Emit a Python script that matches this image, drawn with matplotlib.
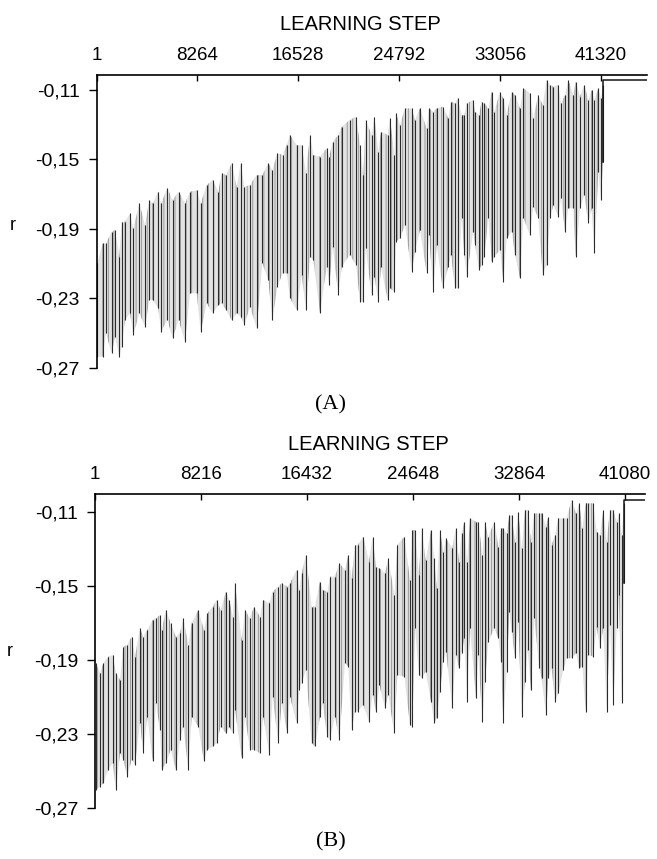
import matplotlib.pyplot as plt

plt.rcParams["font.family"] = ["Liberation Sans", "DejaVu Sans"]
plt.rcParams["hatch.linewidth"] = 0.6

# (A) learning run: oscillation strokes, step -> top / bottom of r
steps_a = [70, 506, 779, 1244, 1517, 1871, 2063, 2336, 2745, 3018, 3509, 3974,
           4328, 4601, 5066, 5284, 5803, 6239, 6731, 7250, 7659, 8205, 8533,
           9024, 9515, 9980, 10253, 10607, 11071, 11481, 11809, 12109, 12573,
           13119, 13583, 14075, 14402, 14812, 15249, 15576, 15849, 16395,
           16805, 17159, 17487, 17760, 18306, 18852, 19070, 19343, 19808,
           20081, 20735, 21254, 21582, 21855, 22046, 22537, 22755, 23083,
           23301, 23847, 24039, 24393, 24530, 24858, 25267, 25813, 26086,
           26496, 27042, 27233, 27588, 27861, 28352, 28816, 29035, 29362,
           29580, 29908, 30126, 30318, 30864, 31000, 31328, 31546, 31764,
           32092, 32365, 32583, 33048, 33321, 33594, 34003, 34276, 34686,
           34959, 35505, 35778, 36187, 36542, 36870, 37143, 37416, 37825,
           38043, 38371, 38644, 39054, 39245, 39600, 39955, 40282, 40555,
           40773, 41101, 41319, 41480]
top_a = [-0.2098, -0.1983, -0.1983, -0.1916, -0.1906, -0.2059, -0.1858, -0.1858,
         -0.1810, -0.1896, -0.1753, -0.1877, -0.1733, -0.1753, -0.1685, -0.1753,
         -0.1666, -0.1733, -0.1685, -0.1753, -0.1685, -0.1676, -0.1753, -0.1647,
         -0.1618, -0.1685, -0.1580, -0.1589, -0.1522, -0.1657, -0.1522, -0.1657,
         -0.1647, -0.1589, -0.1589, -0.1522, -0.1561, -0.1465, -0.1474, -0.1417,
         -0.1359, -0.1417, -0.1417, -0.1580, -0.1359, -0.1474, -0.1484, -0.1436,
         -0.1484, -0.1398, -0.1359, -0.1311, -0.1273, -0.1253, -0.1417, -0.1589,
         -0.1273, -0.1359, -0.1253, -0.1455, -0.1340, -0.1359, -0.1263, -0.1474,
         -0.1234, -0.1301, -0.1206, -0.1206, -0.1273, -0.1206, -0.1321, -0.1206,
         -0.1225, -0.1206, -0.1196, -0.1263, -0.1167, -0.1177, -0.1148, -0.1244,
         -0.1244, -0.1177, -0.1158, -0.1225, -0.1244, -0.1167, -0.1177, -0.1206,
         -0.1110, -0.1225, -0.1110, -0.1148, -0.1244, -0.1110, -0.1129, -0.1206,
         -0.1090, -0.1119, -0.1263, -0.1129, -0.1186, -0.1042, -0.1071, -0.1081,
         -0.1071, -0.1177, -0.1129, -0.1042, -0.1129, -0.1052, -0.1138, -0.1071,
         -0.1158, -0.1100, -0.1158, -0.1090, -0.1148, -0.1071]
low_a = [-0.2635, -0.2635, -0.2501, -0.2616, -0.2520, -0.2635, -0.2577, -0.2424,
         -0.2385, -0.2510, -0.2385, -0.2462, -0.2309, -0.2309, -0.2357, -0.2491,
         -0.2424, -0.2529, -0.2424, -0.2549, -0.2270, -0.2270, -0.2491, -0.2328,
         -0.2385, -0.2338, -0.2328, -0.2366, -0.2424, -0.2385, -0.2405, -0.2453,
         -0.2347, -0.2472, -0.2098, -0.2194, -0.2424, -0.2232, -0.2155, -0.2155,
         -0.2299, -0.2366, -0.2165, -0.2366, -0.2059, -0.2079, -0.2385, -0.2117,
         -0.2222, -0.2002, -0.2280, -0.2117, -0.2049, -0.2107, -0.2318, -0.2318,
         -0.2011, -0.2280, -0.2174, -0.2318, -0.2117, -0.2308, -0.2241, -0.2260,
         -0.1973, -0.1954, -0.1877, -0.2145, -0.2030, -0.1906, -0.2155, -0.1934,
         -0.2260, -0.1992, -0.2241, -0.2117, -0.2049, -0.2241, -0.2241, -0.1838,
         -0.2049, -0.2174, -0.1915, -0.1992, -0.2136, -0.2107, -0.2059, -0.1838,
         -0.2088, -0.2059, -0.2021, -0.2203, -0.1954, -0.1915, -0.2049, -0.2184,
         -0.1838, -0.1934, -0.1771, -0.1838, -0.2164, -0.2107, -0.1838, -0.1762,
         -0.1829, -0.1723, -0.1915, -0.1781, -0.1781, -0.2059, -0.1781, -0.1704,
         -0.1867, -0.1781, -0.2040, -0.1570, -0.1733, -0.1512]
tail_a = [41480, 45087]
final_r_a = -0.1042
ticks_a = [1, 8264, 16528, 24792, 33056, 41320]

# (B) second run
steps_b = [78, 388, 646, 1034, 1369, 1628, 1938, 2196, 2506, 2842, 3100, 3488,
           3746, 4056, 4469, 4727, 5037, 5166, 5502, 5864, 6277, 6587, 6845,
           7233, 7491, 8008, 8447, 8705, 9118, 9428, 9738, 10152, 10410, 10668,
           10849, 11366, 11624, 12011, 12321, 12786, 13045, 13510, 13768,
           14207, 14465, 14904, 15111, 15628, 15835, 16015, 16351, 16790,
           17048, 17436, 17643, 18004, 18211, 18598, 18934, 19374, 19632,
           19893, 20151, 20358, 20797, 21236, 21520, 21778, 22036, 22476,
           22734, 23199, 23431, 23974, 24413, 24594, 24800, 25110, 25317,
           25627, 26040, 26298, 26479, 26738, 26996, 27203, 27693, 27952,
           28210, 28417, 28623, 28830, 29063, 29527, 29708, 30018, 30225,
           30483, 30948, 31258, 31464, 31645, 31904, 32110, 32291, 32549,
           32808, 33066, 33324, 33531, 33789, 34047, 34435, 34616, 34952,
           35132, 35391, 35649, 35907, 36295, 36553, 36940, 37276, 37534,
           37767, 38025, 38232, 38620, 38878, 39136, 39394, 39653, 39911,
           40169, 40428, 40608, 40815, 40996]
top_b = [-0.1916, -0.1970, -0.1916, -0.1880, -0.1871, -0.1970, -0.2006, -0.1826,
         -0.1817, -0.1772, -0.1880, -0.1727, -0.1772, -0.1736, -0.1682, -0.1673,
         -0.1655, -0.1736, -0.1628, -0.1700, -0.1772, -0.1754, -0.1673, -0.1817,
         -0.1700, -0.1628, -0.1736, -0.1646, -0.1610, -0.1574, -0.1628, -0.1528,
         -0.1574, -0.1664, -0.1483, -0.1790, -0.1628, -0.1673, -0.1610, -0.1664,
         -0.1574, -0.1592, -0.1528, -0.1501, -0.1483, -0.1501, -0.1483, -0.1411,
         -0.1519, -0.1429, -0.1330, -0.1610, -0.1610, -0.1474, -0.1519, -0.1528,
         -0.1447, -0.1447, -0.1375, -0.1411, -0.1330, -0.1456, -0.1276, -0.1276,
         -0.1231, -0.1366, -0.1231, -0.1393, -0.1402, -0.1429, -0.1348, -0.1547,
         -0.1276, -0.1231, -0.1465, -0.1195, -0.1195, -0.1438, -0.1186, -0.1357,
         -0.1195, -0.1348, -0.1510, -0.1195, -0.1312, -0.1240, -0.1294, -0.1186,
         -0.1366, -0.1213, -0.1150, -0.1366, -0.1132, -0.1150, -0.1150, -0.1330,
         -0.1150, -0.1231, -0.1150, -0.1285, -0.1186, -0.1186, -0.1213, -0.1114,
         -0.1114, -0.1258, -0.1095, -0.1294, -0.1086, -0.1086, -0.1258, -0.1105,
         -0.1105, -0.1105, -0.1177, -0.1123, -0.1276, -0.1222, -0.1132, -0.1132,
         -0.1132, -0.1032, -0.1105, -0.1050, -0.1186, -0.1050, -0.1050, -0.1050,
         -0.1204, -0.1222, -0.1086, -0.1258, -0.1086, -0.1086, -0.1150, -0.1105,
         -0.1222, -0.1050]
low_b = [-0.2602, -0.2584, -0.2566, -0.2494, -0.2457, -0.2602, -0.2403, -0.2439,
         -0.2530, -0.2439, -0.2466, -0.2241, -0.2403, -0.2205, -0.2448, -0.2133,
         -0.2277, -0.2494, -0.2457, -0.2385, -0.2494, -0.2331, -0.2259, -0.2494,
         -0.2205, -0.2259, -0.2448, -0.2385, -0.2367, -0.2349, -0.2259, -0.2295,
         -0.2259, -0.2295, -0.2169, -0.2430, -0.2205, -0.2385, -0.2385, -0.2403,
         -0.2205, -0.2412, -0.2097, -0.2349, -0.2133, -0.2295, -0.2097, -0.2241,
         -0.2060, -0.2024, -0.1952, -0.2349, -0.2367, -0.2205, -0.2133, -0.2313,
         -0.2331, -0.2205, -0.2331, -0.1916, -0.1934, -0.2277, -0.2178, -0.2178,
         -0.2142, -0.2232, -0.2088, -0.2178, -0.2034, -0.2160, -0.2088, -0.2295,
         -0.1980, -0.1989, -0.2250, -0.2259, -0.1727, -0.1980, -0.1998, -0.1961,
         -0.2124, -0.2241, -0.2214, -0.2070, -0.1907, -0.1853, -0.2160, -0.1871,
         -0.1943, -0.1862, -0.1781, -0.2124, -0.1727, -0.2106, -0.1871, -0.2232,
         -0.2016, -0.1799, -0.1727, -0.1781, -0.1907, -0.2241, -0.1961, -0.1637,
         -0.1745, -0.1889, -0.1691, -0.2205, -0.2016, -0.1844, -0.2061, -0.1673,
         -0.1943, -0.1998, -0.2196, -0.1998, -0.1943, -0.2124, -0.2079, -0.1952,
         -0.1889, -0.1889, -0.1862, -0.1943, -0.1934, -0.2178, -0.1871, -0.1880,
         -0.1718, -0.1835, -0.1727, -0.2178, -0.1709, -0.2142, -0.1727, -0.1547,
         -0.2133, -0.1483]
tail_b = [40996, 42626]
final_r_b = -0.1032
ticks_b = [1, 8216, 16432, 24648, 32864, 41080]

r_ticks = [-0.11, -0.15, -0.19, -0.23, -0.27]
r_labels = ["-0,11", "-0,15", "-0,19", "-0,23", "-0,27"]


def draw_panel(ax, steps, tops, lows, ticks, tail, final_r, ytop):
    # grey shading with vertical hatch for the dense trace, dark strokes on top
    ax.fill_between(steps, lows, tops, facecolor="#e2e2e2", edgecolor="#8e8e8e",
                    hatch="|||", linewidth=0)
    ax.vlines(steps, lows, tops, color="#2b2b2b", linewidth=0.8)
    ax.plot([tail[0], tail[0], tail[1]], [lows[-1], final_r, final_r],
            color="#151515", linewidth=1.1)

    ax.set_xlim(1, tail[1])
    ax.set_ylim(-0.27, ytop)
    ax.xaxis.tick_top()
    ax.set_xticks(ticks)
    ax.set_xticklabels([str(t) for t in ticks])
    ax.set_yticks(r_ticks)
    ax.set_yticklabels(r_labels)
    ax.tick_params(axis="x", direction="in", length=4, width=1, pad=8,
                   labelsize=13.5)
    ax.tick_params(axis="y", direction="out", length=6, width=1, pad=6,
                   labelsize=14)
    for side in ["right", "bottom"]:
        ax.spines[side].set_visible(False)
    for side in ["left", "top"]:
        ax.spines[side].set_linewidth(1.2)


fig = plt.figure(figsize=(6.57, 8.59), dpi=100)

ax_a = fig.add_axes([96.5 / 657, 1 - 368 / 859, 550.5 / 657, 293 / 859])
draw_panel(ax_a, steps_a, top_a, low_a, ticks_a, tail_a, final_r_a, -0.1014)

ax_b = fig.add_axes([95 / 657, 1 - 808 / 859, 550 / 657, 314 / 859])
draw_panel(ax_b, steps_b, top_b, low_b, ticks_b, tail_b, final_r_b, -0.1000)

fig.text(360 / 657, 1 - 24 / 859, "LEARNING STEP", ha="center", va="center",
         fontsize=14.5)
fig.text(368 / 657, 1 - 445 / 859, "LEARNING STEP", ha="center", va="center",
         fontsize=14.5)
fig.text(13 / 657, 1 - 226 / 859, "r", ha="center", va="center", fontsize=13)
fig.text(10 / 657, 1 - 652 / 859, "r", ha="center", va="center", fontsize=13)
fig.text(331 / 657, 1 - 405 / 859, "(A)", ha="center", va="center",
         fontsize=16, family=["Liberation Serif", "DejaVu Serif"])
fig.text(331 / 657, 1 - 842 / 859, "(B)", ha="center", va="center",
         fontsize=16, family=["Liberation Serif", "DejaVu Serif"])

fig.savefig("out.png", dpi=100)
